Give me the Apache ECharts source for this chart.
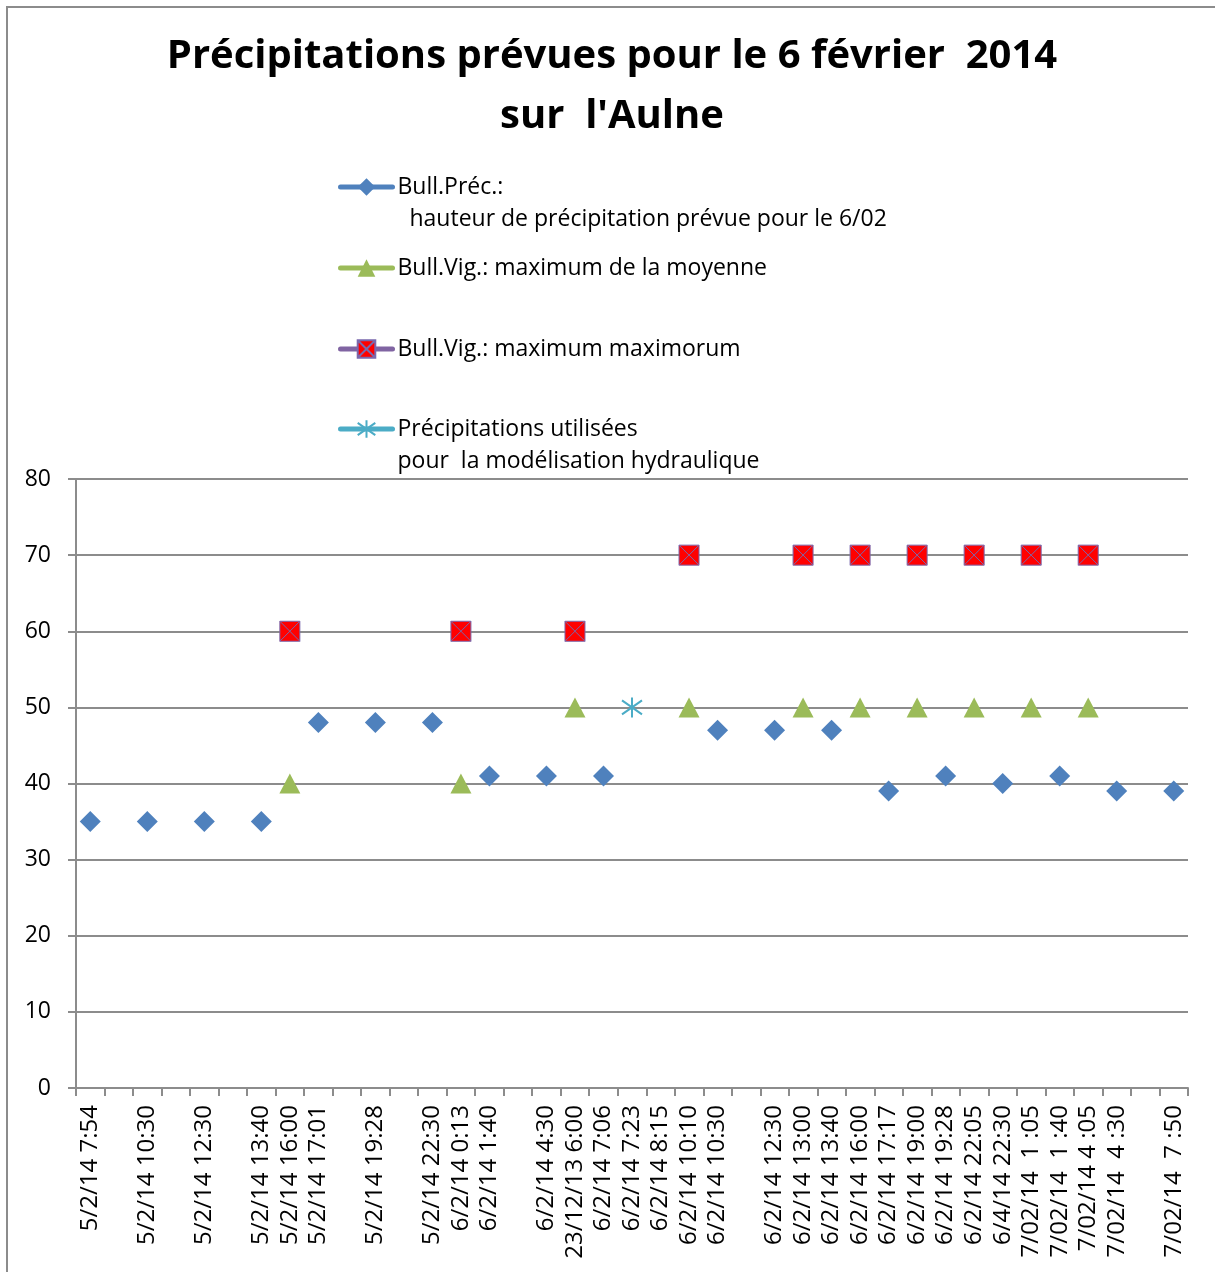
<!DOCTYPE html>
<html>
<head>
<meta charset="utf-8">
<script src="https://cdn.jsdelivr.net/npm/echarts@6/dist/echarts.min.js"></script>
<style>
  html, body { margin: 0; padding: 0; background: #fff; }
  #chart { width: 1215px; height: 1272px; }
</style>
</head>
<body>
<div id="chart"></div>
<script>
// 39 category slots, some left blank as in the source sheet
const categories = [
  '5/2/14 7:54', '', '5/2/14 10:30', '', '5/2/14 12:30', '', '5/2/14 13:40', '5/2/14 16:00',
  '5/2/14 17:01', '', '5/2/14 19:28', '', '5/2/14 22:30', '6/2/14 0:13', '6/2/14 1:40', '',
  '6/2/14 4:30', '23/12/13 6:00', '6/2/14 7:06', '6/2/14 7:23', '6/2/14 8:15', '6/2/14 10:10',
  '6/2/14 10:30', '', '6/2/14 12:30', '6/2/14 13:00', '6/2/14 13:40', '6/2/14 16:00',
  '6/2/14 17:17', '6/2/14 19:00', '6/2/14 19:28', '6/2/14 22:05', '6/4/14 22:30',
  '7/02/14  1 :05', '7/02/14  1 :40', '7/02/14 4 :05', '7/02/14  4 :30', '', '7/02/14  7 :50'
]

const _ = null
const bullPrec = [
  35, _, 35, _, 35, _, 35, _, 48, _, 48, _, 48, _, 41, _, 41, _, 41, _,
  _, _, 47, _, 47, _, 47, _, 39, _, 41, _, 40, _, 41, _, 39, _, 39
]
const vigMoyenne = [
  _, _, _, _, _, _, _, 40, _, _, _, _, _, 40, _, _, _, 50, _, _,
  _, 50, _, _, _, 50, _, 50, _, 50, _, 50, _, 50, _, 50, _, _, _
]
const vigMaxMax = [
  _, _, _, _, _, _, _, 60, _, _, _, _, _, 60, _, _, _, 60, _, _,
  _, 70, _, _, _, 70, _, 70, _, 70, _, 70, _, 70, _, 70, _, _, _
]
const precipUtil = [
  _, _, _, _, _, _, _, _, _, _, _, _, _, _, _, _, _, _, _, 50,
  _, _, _, _, _, _, _, _, _, _, _, _, _, _, _, _, _, _, _
]

const NAME_PREC = 'Bull.Préc.:\n  hauteur de précipitation prévue pour le 6/02'
const NAME_MOY = 'Bull.Vig.: maximum de la moyenne'
const NAME_MAX = 'Bull.Vig.: maximum maximorum'
const NAME_UTIL = 'Précipitations utilisées\npour  la modélisation hydraulique'

const FONT = '"Open Sans", "Noto Sans", sans-serif'
const GRID_GREY = '#8c8c8c'

const chart = echarts.init(document.getElementById('chart'))

function legendAt(name, top) {
  return {
    data: [name],
    top: top,
    left: 338,
    padding: 0,
    orient: 'vertical',
    selectedMode: false,
    itemWidth: 52,
    itemHeight: 22,
    lineStyle: { width: 5, cap: 'round' },
    // leading blank line keeps the icon on the first text line
    formatter: n => n.indexOf('\n') >= 0 ? '\n' + n : n,
    textStyle: { fontFamily: FONT, fontSize: 23, color: '#000', lineHeight: 32 }
  }
}

chart.setOption({
  animation: false,
  title: {
    text: 'Précipitations prévues pour le 6 février  2014\nsur  l\'Aulne',
    left: 612,
    top: 27,
    padding: 0,
    textAlign: 'center',
    textStyle: { fontFamily: FONT, fontSize: 40, fontWeight: 'bold', color: '#000', lineHeight: 60 }
  },
  legend: [
    legendAt(NAME_PREC, 139),
    legendAt(NAME_MOY, 252),
    legendAt(NAME_MAX, 333),
    legendAt(NAME_UTIL, 381)
  ],
  graphic: [{
    type: 'rect',
    silent: true,
    shape: { x: 7, y: 7, width: 1300, height: 1400 },
    style: { fill: 'none', stroke: GRID_GREY, lineWidth: 2 }
  }],
  grid: { left: 76, right: 27, top: 479, bottom: 184 },
  xAxis: {
    type: 'category',
    data: categories,
    boundaryGap: true,
    axisLine: { lineStyle: { color: GRID_GREY, width: 2 } },
    axisTick: { show: true, interval: 0, length: 8, lineStyle: { color: GRID_GREY, width: 2 } },
    axisLabel: { interval: 0, rotate: 90, margin: 17, fontFamily: FONT, fontSize: 24, color: '#000' },
    splitLine: { show: false }
  },
  yAxis: {
    type: 'value',
    min: 0,
    max: 80,
    interval: 10,
    axisLine: { show: true, lineStyle: { color: GRID_GREY, width: 2 } },
    axisTick: { show: true, length: 8, lineStyle: { color: GRID_GREY, width: 2 } },
    axisLabel: { margin: 25, fontFamily: FONT, fontSize: 23, color: '#000' },
    splitLine: { lineStyle: { color: GRID_GREY, width: 2 } }
  },
  series: [
    {
      name: NAME_PREC,
      type: 'line',
      data: bullPrec,
      symbol: 'diamond',
      symbolSize: 21,
      showAllSymbol: true,
      itemStyle: { color: '#4f81bd' },
      lineStyle: { color: '#4f81bd', width: 5, cap: 'round' }
    },
    {
      name: NAME_MOY,
      type: 'line',
      data: vigMoyenne,
      symbol: 'triangle',
      symbolSize: [21, 20],
      showAllSymbol: true,
      itemStyle: { color: '#9bbb59' },
      lineStyle: { color: '#9bbb59', width: 5, cap: 'round' }
    },
    {
      name: NAME_MAX,
      type: 'line',
      data: vigMaxMax,
      symbol: 'path://M0,0H20V20H0Z M0,0L20,20 M20,0L0,20',
      symbolSize: 20,
      showAllSymbol: true,
      itemStyle: { color: '#ff0000', borderColor: '#7a68ad', borderWidth: 1 },
      lineStyle: { color: '#8064a2', width: 5, cap: 'round' }
    },
    {
      name: NAME_UTIL,
      type: 'line',
      data: precipUtil,
      symbol: 'path://M10,0V20 M1,3L19,17 M19,3L1,17',
      symbolSize: 20,
      showAllSymbol: true,
      itemStyle: { color: '#4bacc6', borderColor: '#4bacc6', borderWidth: 2 },
      lineStyle: { color: '#4bacc6', width: 5, cap: 'round' }
    }
  ]
})
</script>
</body>
</html>
